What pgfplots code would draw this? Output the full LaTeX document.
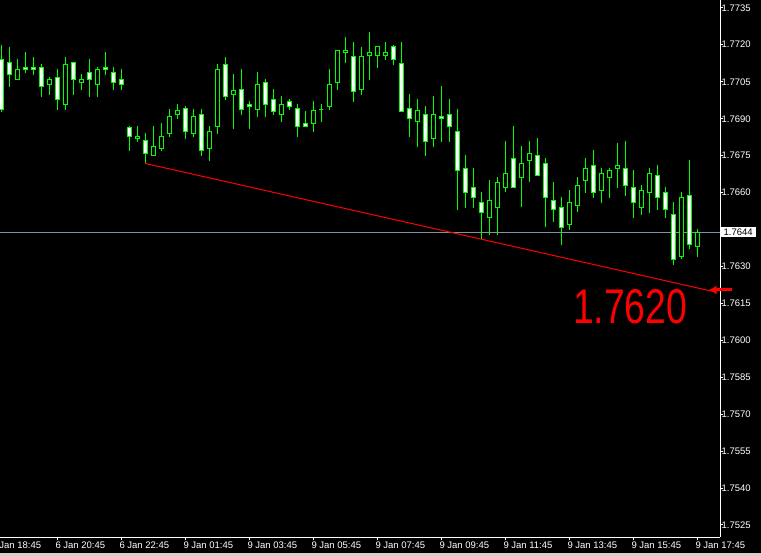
\documentclass[border=0pt]{standalone}
\usepackage{pgfplots}
\pgfplotsset{compat=1.18}
\usepackage{pgfplotstable}
\usetikzlibrary{arrows.meta}
\usepackage{graphicx}
\usepackage{fontspec}
\setmainfont{Liberation Sans}
\definecolor{bidline}{RGB}{130,146,166}
\definecolor{winborder}{RGB}{212,208,200}

\pgfplotstableread{
i o h l c
0 1.77142 1.77200 1.76929 1.76936
1 1.77129 1.77192 1.77030 1.77081
2 1.77059 1.77143 1.77057 1.77101
3 1.77109 1.77171 1.77087 1.77099
4 1.77109 1.77151 1.77079 1.77099
5 1.77109 1.77123 1.76990 1.77032
6 1.77040 1.77070 1.76998 1.77060
7 1.77069 1.77102 1.76937 1.76979
8 1.76959 1.77151 1.76937 1.77121
9 1.77129 1.77130 1.76998 1.77060
10 1.77048 1.77081 1.77018 1.77060
11 1.77089 1.77143 1.76990 1.77060
12 1.77040 1.77110 1.76990 1.77101
13 1.77109 1.77171 1.77079 1.77101
14 1.77089 1.77110 1.77018 1.77048
15 1.77060 1.77101 1.77018 1.77040
16 1.76863 1.76871 1.76770 1.76827
17 1.76819 1.76871 1.76807 1.76830
18 1.76810 1.76842 1.76719 1.76758
19 1.76750 1.76871 1.76748 1.76789
20 1.76779 1.76883 1.76770 1.76830
21 1.76839 1.76940 1.76827 1.76911
22 1.76917 1.76960 1.76900 1.76932
23 1.76940 1.76952 1.76819 1.76848
24 1.76839 1.76940 1.76827 1.76911
25 1.76919 1.76940 1.76750 1.76770
26 1.76779 1.76871 1.76730 1.76850
27 1.76868 1.77123 1.76839 1.77101
28 1.77121 1.77151 1.76978 1.76990
29 1.76998 1.77082 1.76860 1.77013
30 1.77020 1.77102 1.76917 1.76937
31 1.76960 1.76972 1.76860 1.76949
32 1.76937 1.77090 1.76909 1.77040
33 1.77048 1.77062 1.76909 1.76957
34 1.76979 1.77021 1.76917 1.76929
35 1.76917 1.76993 1.76888 1.76960
36 1.76972 1.76980 1.76937 1.76949
37 1.76940 1.76960 1.76827 1.76868
38 1.76882 1.76932 1.76867 1.76868
39 1.76880 1.76972 1.76848 1.76932
40 1.76939 1.76960 1.76888 1.76939
41 1.76949 1.77102 1.76937 1.77041
42 1.77047 1.77180 1.77018 1.77179
43 1.77168 1.77232 1.77128 1.77179
44 1.77151 1.77212 1.76969 1.77010
45 1.77018 1.77192 1.76998 1.77151
46 1.77156 1.77253 1.77059 1.77171
47 1.77156 1.77193 1.77108 1.77192
48 1.77156 1.77212 1.77140 1.77171
49 1.77192 1.77200 1.77120 1.77140
50 1.77123 1.77212 1.76928 1.76929
51 1.76940 1.77001 1.76827 1.76900
52 1.76888 1.76980 1.76787 1.76932
53 1.76919 1.76952 1.76750 1.76807
54 1.76819 1.76993 1.76787 1.76919
55 1.76911 1.77033 1.76807 1.76900
56 1.76919 1.76980 1.76807 1.76868
57 1.76849 1.76940 1.76531 1.76691
58 1.76699 1.76753 1.76539 1.76601
59 1.76622 1.76700 1.76539 1.76581
60 1.76561 1.76603 1.76413 1.76520
61 1.76500 1.76651 1.76429 1.76569
62 1.76541 1.76662 1.76429 1.76642
63 1.76622 1.76810 1.76601 1.76679
64 1.76740 1.76871 1.76621 1.76622
65 1.76662 1.76789 1.76541 1.76719
66 1.76731 1.76810 1.76642 1.76760
67 1.76752 1.76822 1.76669 1.76670
68 1.76719 1.76740 1.76459 1.76581
69 1.76569 1.76642 1.76480 1.76532
70 1.76541 1.76581 1.76389 1.76459
71 1.76471 1.76611 1.76450 1.76561
72 1.76549 1.76662 1.76520 1.76630
73 1.76650 1.76740 1.76600 1.76699
74 1.76711 1.76773 1.76580 1.76601
75 1.76608 1.76699 1.76559 1.76679
76 1.76662 1.76699 1.76580 1.76691
77 1.76699 1.76800 1.76620 1.76711
78 1.76699 1.76809 1.76588 1.76630
79 1.76622 1.76691 1.76498 1.76561
80 1.76541 1.76630 1.76510 1.76610
81 1.76601 1.76699 1.76519 1.76679
82 1.76670 1.76711 1.76531 1.76581
83 1.76601 1.76622 1.76498 1.76532
84 1.76512 1.76561 1.76307 1.76329
85 1.76340 1.76601 1.76329 1.76581
86 1.76589 1.76731 1.76370 1.76390
87 1.76382 1.76451 1.76340 1.76440
}\candles

\newcommand{\lbl}{\fontsize{9.5bp}{10.5bp}\selectfont}

\begin{document}
\begin{tikzpicture}
\fill[black] (0,-19bp) rectangle (761bp,537bp);
\fill[winborder] (0,-19bp) rectangle (761bp,-16bp);
\begin{axis}[
  at={(0,0)}, anchor=south west,
  scale only axis, width=720bp, height=537bp,
  y coord trafo/.code={\pgfmathparse{(#1-1.76)*10000}},
  y coord inv trafo/.code={\pgfmathparse{#1/10000+1.76}},
  xmin=-0.1625, xmax=89.8375, ymin=1.75201, ymax=1.773825,
  axis x line*=bottom, axis y line*=right,
  axis line style={white, line width=1bp, -},
  clip=false,
  scaled y ticks=false,
  xtick={7,15,...,87},
  xticklabels={6 Jan 20:45,6 Jan 22:45,9 Jan 01:45,9 Jan 03:45,9 Jan 05:45,9 Jan 07:45,9 Jan 09:45,9 Jan 11:45,9 Jan 13:45,9 Jan 15:45,9 Jan 17:45},
  ytick={1.7525,1.7540,1.7555,1.7570,1.7585,1.7600,1.7615,1.7630,1.7660,1.7675,1.7690,1.7705,1.7720,1.7735},
  yticklabel={\pgfmathprintnumber[fixed,fixed zerofill,precision=4,assume math mode=true]{\tick}},
  tick align=outside, major tick length=3bp,
  tick style={white, line width=1bp},
  ticklabel style={text=white, font=\lbl},
  xticklabel style={anchor=north west, inner sep=0pt, xshift=-2bp, yshift=-2bp},
  yticklabel style={anchor=west, inner sep=0pt, xshift=-1.5bp},
]
\addplot[bidline, line width=1bp] coordinates {(-0.1625,1.7644) (89.8375,1.7644)};

\pgfplotsforeachungrouped \k in {0,...,87}{%
  \pgfplotstablegetelem{\k}{o}\of\candles \let\vo\pgfplotsretval
  \pgfplotstablegetelem{\k}{h}\of\candles \let\vh\pgfplotsretval
  \pgfplotstablegetelem{\k}{l}\of\candles \let\vl\pgfplotsretval
  \pgfplotstablegetelem{\k}{c}\of\candles \let\vc\pgfplotsretval
  \ifdim\vo pt>\vc pt
    \let\btop\vo \let\bbot\vc \def\bfill{white}%
  \else
    \let\btop\vc \let\bbot\vo \def\bfill{black}%
  \fi
  \pgfmathsetmacro\xa{\k-0.25}%
  \pgfmathsetmacro\xb{\k+0.25}%
  \edef\cmd{%
    \noexpand\addplot[green, line width=1bp] coordinates {(\k,\vl) (\k,\vh)};
    \noexpand\addplot[draw=green, fill=\bfill, line width=1bp, line join=miter] coordinates {(\xa,\bbot) (\xb,\bbot) (\xb,\btop) (\xa,\btop) (\xa,\bbot)};
  }%
  \cmd
}

\addplot[red, line width=1bp] coordinates {(17.96,1.76719) (88.84,1.76200)};
\addplot[red, line width=3bp, -{Latex[length=8bp,width=9bp]}] coordinates {(91.3,1.76205) (88.4,1.76205)};

\node[text=red, inner sep=0pt] at (axis cs:78.6,1.76136) {\resizebox{114bp}{34bp}{1.7620}};
\node[anchor=north west, text=white, font=\lbl, inner sep=0pt] at ([xshift=-2bp, yshift=-5bp]axis cs:-1,1.75201) {6 Jan 18:45};
\coordinate (bidpt) at (axis cs:89.8375,1.7644);
\end{axis}
\node[fill=white, text=black, anchor=west, inner xsep=3bp, inner ysep=1.5bp, font=\lbl] at ([xshift=0.5bp]bidpt) {1.7644};
\pgfresetboundingbox
\useasboundingbox (0,-19bp) rectangle (761bp,537bp);
\end{tikzpicture}
\end{document}
